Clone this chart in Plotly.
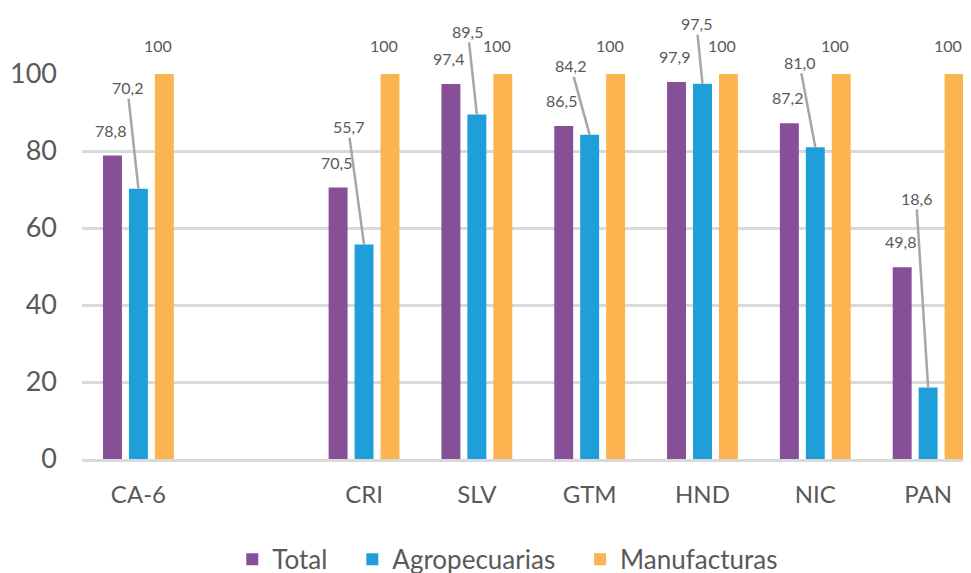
import plotly.graph_objs as go

# data
paises = ["CA-6", " ", "CRI", "SLV", "GTM", "HND", "NIC", "PAN"]
total = [78.8, None, 70.5, 97.4, 86.5, 97.9, 87.2, 49.8]
agro = [70.2, None, 55.7, 89.5, 84.2, 97.5, 81.0, 18.6]
manuf = [100, None, 100, 100, 100, 100, 100, 100]
series = ["Total", "Agropecuarias", "Manufacturas"]

# label offsets (px) for the blue series leader lines
agro_ax = [-11, 0, -16, -9, -19, -6, -16, -12]
agro_ay = [-101, 0, -118, -83, -69, -60, -85, -189]

colores = ["#874F98", "#1E9FD9", "#FBB450"]
gris = "#595959"
fuente = "Lato, 'Open Sans', sans-serif"


def fmt(v):
    return "100" if v == 100 else f"{v:.1f}".replace(".", ",")


fig = go.Figure()
for nombre, vals, col in zip(series, [total, agro, manuf], colores):
    # trailing nbsp widens the gap between legend entries
    fig.add_trace(go.Bar(x=paises, y=vals, name=nombre + "\u00a0" * 3, marker_color=col,
                         marker_line_width=0))

anot = []
for i, p in enumerate(paises):
    if total[i] is None:
        continue
    anot.append(dict(x=i - 0.23, y=total[i], text=fmt(total[i]), showarrow=False,
                     yanchor="bottom", yshift=14, xshift=-2))
    anot.append(dict(x=i + 0.23, y=manuf[i], text=fmt(manuf[i]), showarrow=False,
                     yanchor="bottom", yshift=17, xshift=-6))
    anot.append(dict(x=i, y=agro[i], text=fmt(agro[i]), showarrow=True, arrowhead=0,
                     arrowwidth=2.5, arrowcolor="#A6A6A6", ax=agro_ax[i], ay=agro_ay[i],
                     standoff=0, startstandoff=0))
for a in anot:
    a["font"] = dict(family=fuente, size=16, color=gris)

# the page puts the figure 8px in from the top-left corner
fig.update_layout(
    width=971, height=573,
    margin=dict(l=74, r=8, t=66, b=122, autoexpand=False),
    plot_bgcolor="white", paper_bgcolor="white",
    barmode="group", bargap=0.31, bargroupgap=0.27,
    font=dict(family=fuente, color=gris),
    annotations=anot,
    legend=dict(orientation="h", xref="container", x=0.525, xanchor="center",
                yref="container", y=0.038, yanchor="middle",
                font=dict(size=26, color=gris), itemwidth=30, traceorder="normal"),
    xaxis=dict(range=[-0.5, 7.38], showgrid=False, tickfont=dict(size=24, color=gris),
               ticks="", ticklabelstandoff=12, showline=True, linecolor="#D9D9D9",
               linewidth=3, automargin=False),
    yaxis=dict(range=[0, 100], tickvals=[0, 20, 40, 60, 80, 100], showgrid=True,
               gridcolor="#D9D9D9", gridwidth=2.5, zeroline=False, automargin=False,
               tickfont=dict(size=27, color=gris), ticklabelstandoff=24, fixedrange=True),
)

fig.write_html("out.html")
